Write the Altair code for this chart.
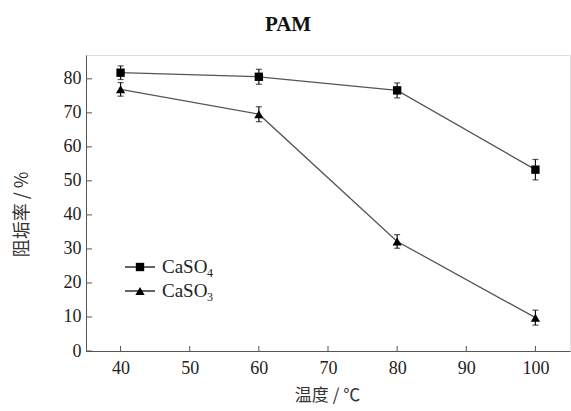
import altair as alt
import pandas as pd

temps = [40, 60, 80, 100]
caso4 = [81.8, 80.6, 76.6, 53.3]
caso3 = [76.9, 69.6, 32.2, 9.8]
err4 = [2.0, 2.2, 2.2, 3.0]
err3 = [2.0, 2.2, 2.0, 2.2]
series_names = ["CaSO4", "CaSO3"]
legend_base = ["CaSO", "CaSO"]
legend_sub = ["4", "3"]
shapes = ["square", "triangle-up"]
x_ticks = [40, 50, 60, 70, 80, 90, 100]
y_ticks = [0, 10, 20, 30, 40, 50, 60, 70, 80]

rows = []
for name, vals, errs in [(series_names[0], caso4, err4), (series_names[1], caso3, err3)]:
    for t, v, e in zip(temps, vals, errs):
        rows.append({"T": t, "v": v, "lo": v - e, "hi": v + e, "s": name})
df = pd.DataFrame(rows)

W, H = 484, 296
SERIF = "Liberation Serif, Times New Roman, serif"
CJK = "Noto Sans CJK SC"
INK = "#222222"
SIZES = [70, 85]

xs = alt.Scale(domain=[35, 105], nice=False, zero=False)
ys = alt.Scale(domain=[0, 87], nice=False)
shape_scale = alt.Scale(domain=series_names, range=shapes)

base = alt.Chart(df)

x_axis = alt.Axis(values=x_ticks, tickSize=0, labelPadding=8, labelFont=SERIF, labelFontSize=18,
                  labelColor=INK, labelOverlap=False, domainColor="#555555", grid=False,
                  title="温度 / ℃",
                  titleFont=CJK, titleFontSize=17, titleFontWeight="normal", titleColor="#333333",
                  titleX=241, titleY=44, titleBaseline="middle", titleAlign="center")
y_axis = alt.Axis(values=y_ticks, tickSize=0, labelPadding=5, labelFont=SERIF, labelFontSize=18,
                  labelColor=INK, labelOverlap=False, domainColor="#555555", grid=False,
                  title="阻垢率 / %",
                  titleFont=CJK, titleFontSize=18, titleFontWeight="normal", titleColor="#333333",
                  titleX=-64, titleY=159, titleAngle=-90, titleBaseline="middle", titleAlign="center")


def X(f):
    return alt.X(f, scale=xs, axis=x_axis)


def Y(f):
    return alt.Y(f, scale=ys, axis=y_axis)


lines = base.mark_line(color="#555555", strokeWidth=1.3).encode(
    x=X("T:Q"), y=Y("v:Q"), detail="s:N",
)
bars = base.mark_rule(color="#111111", strokeWidth=1.2).encode(
    x=X("T:Q"), y=Y("lo:Q"), y2="hi:Q"
)
cap_lo = base.mark_tick(orient="horizontal", color="#111111", thickness=1.2, size=6).encode(
    x=X("T:Q"), y=Y("lo:Q")
)
cap_hi = base.mark_tick(orient="horizontal", color="#111111", thickness=1.2, size=6).encode(
    x=X("T:Q"), y=Y("hi:Q")
)
points = base.mark_point(filled=True, color="#000000", opacity=1).encode(
    x=X("T:Q"),
    y=Y("v:Q"),
    shape=alt.Shape("s:N", scale=shape_scale, legend=None),
    size=alt.Size("s:N", scale=alt.Scale(domain=series_names, range=SIZES), legend=None),
)

xt = alt.Chart(pd.DataFrame({"t": x_ticks})).mark_rule(color="#555555").encode(
    x=X("t:Q"), y=alt.value(H), y2=alt.value(H - 5)
)
yt = alt.Chart(pd.DataFrame({"t": y_ticks})).mark_rule(color="#555555").encode(
    y=Y("t:Q"), x=alt.value(0), x2=alt.value(6)
)

legend_layers = []
leg_y = [212, 236]
for i in range(2):
    ldf = pd.DataFrame({"b": [legend_base[i]], "sub": [legend_sub[i]], "s": [series_names[i]]})
    lc = alt.Chart(ldf)
    legend_layers.append(lc.mark_rule(color="#222222", strokeWidth=1.4).encode(
        x=alt.value(39), x2=alt.value(69), y=alt.value(leg_y[i])))
    legend_layers.append(lc.mark_point(filled=True, color="#000000", opacity=1,
                                       shape=shapes[i], size=SIZES[i]).encode(
        x=alt.value(54), y=alt.value(leg_y[i])))
    legend_layers.append(lc.mark_text(align="left", baseline="middle", font=SERIF, fontSize=19,
                                      color=INK).encode(
        x=alt.value(76), y=alt.value(leg_y[i]), text="b:N"))
    legend_layers.append(lc.mark_text(align="left", baseline="middle", font=SERIF, fontSize=12,
                                      color=INK).encode(
        x=alt.value(121), y=alt.value(leg_y[i] + 6), text="sub:N"))

chart = alt.layer(lines, bars, cap_lo, cap_hi, points, xt, yt, *legend_layers).properties(
    width=W, height=H,
    padding={"left": 86, "top": 55, "right": 1, "bottom": 60},
    autosize="none",
    title=alt.TitleParams("PAM", font=SERIF, fontSize=21, fontWeight="bold", color="#111111",
                          anchor="middle", dx=-40, offset=20),
).configure_view(stroke=None).configure(background="white")

chart.save("out.html", embed_options={"renderer": "svg", "actions": False})
